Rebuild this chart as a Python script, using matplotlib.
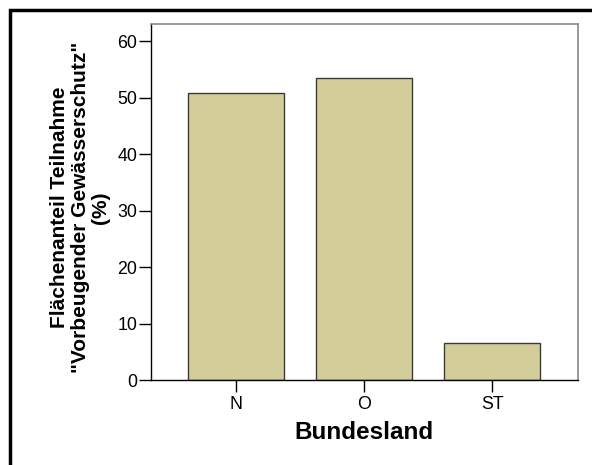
import matplotlib.pyplot as plt
from matplotlib.patches import Rectangle

plt.rcParams['font.family'] = ['Liberation Sans', 'DejaVu Sans']

regions = ['N', 'O', 'ST']
share = [50.9, 53.6, 6.5]
y_ticks = [0, 10, 20, 30, 40, 50, 60]

W, H = 592, 465
fig = plt.figure(figsize=(W / 100, H / 100), dpi=100)
ax = fig.add_axes([150.5 / W, 1 - 380 / H, (578 - 150.5) / W, (380 - 24) / H])

ax.bar(range(len(regions)), share, width=0.75, color='#d2cd99',
       edgecolor='#3a3a3a', linewidth=1.0, zorder=2)

ax.set_xlim(-0.67, 2.67)
ax.set_ylim(0, 63.1)
ax.set_xticks(range(len(regions)))
ax.set_xticklabels(regions)
ax.set_yticks(y_ticks)
ax.tick_params(direction='out', length=8.5, width=1, labelsize=12.8, pad=1, color='black')
ax.tick_params(axis='x', pad=3)

for side in ['left', 'bottom']:
    ax.spines[side].set_color('black')
    ax.spines[side].set_linewidth(1.0)
for side in ['top', 'right']:
    ax.spines[side].set_color('#888888')
    ax.spines[side].set_linewidth(1.2)

ax.set_xlabel('Bundesland', fontsize=17.5, fontweight='bold')
ax.xaxis.set_label_coords(0.5, -0.115)
ax.set_ylabel('Flächenanteil Teilnahme\n"Vorbeugender Gewässerschutz"\n(%)',
              fontsize=15, fontweight='bold', linespacing=1.1)
ax.yaxis.set_label_coords(-0.094, 0.485)

# outer frame around the chart
fig.patches.append(Rectangle((10 / W, -0.05), 1.1, 1 - 10 / H + 0.05,
                             transform=fig.transFigure, fill=False,
                             edgecolor='black', linewidth=2.5))

fig.savefig('out.png', dpi=100)
